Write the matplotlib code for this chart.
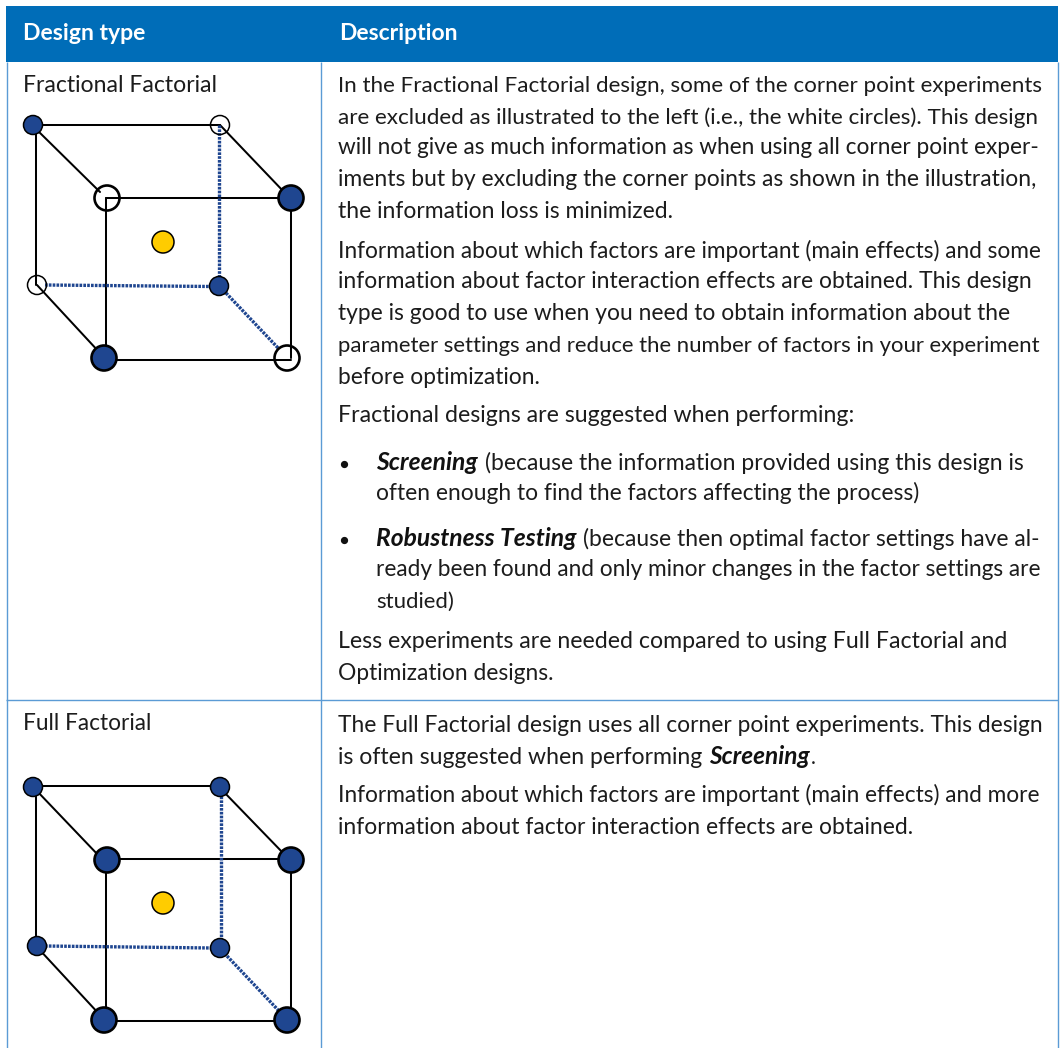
import matplotlib
matplotlib.use("Agg")
import matplotlib.pyplot as plt
from matplotlib.patches import Circle, Rectangle

FONT = "Lato"
TEXT = "#1c1c1c"
HEAD = "#006DB8"
RULE = "#5B9BD5"
NAVY = "#1F4690"
GOLD = "#FFCC00"

headers = ["Design type", "Description"]
design_types = ["Fractional Factorial", "Full Factorial"]

# (text, left, right, baseline)
body_lines = [
    ("In the Fractional Factorial design, some of the corner point experiments", 338, 1041, 91),
    ("are excluded as illustrated to the left (i.e., the white circles). This design", 338, 1040, 122),
    ("will not give as much information as when using all corner point exper-", 338, 1041, 153),
    ("iments but by excluding the corner points as shown in the illustration,", 338, 1036, 185),
    ("the information loss is minimized.", 338, 673, 216),
    ("Information about which factors are important (main effects) and some", 338, 1040, 256),
    ("information about factor interaction effects are obtained. This design", 338, 1031, 287),
    ("type is good to use when you need to obtain information about the", 338, 1010, 319),
    ("parameter settings and reduce the number of factors in your experiment", 338, 1041, 350),
    ("before optimization.", 338, 539, 382),
    ("Fractional designs are suggested when performing:", 338, 856, 421),
    ("(because the information provided using this design is", 485, 1025, 468),
    ("often enough to find the factors affecting the process)", 376, 919, 499),
    ("(because then optimal factor settings have al-", 583, 1041, 544),
    ("ready been found and only minor changes in the factor settings are", 376, 1040, 575),
    ("studied)", 376, 454, 606),
    ("Less experiments are needed compared to using Full Factorial and", 338, 1007, 646),
    ("Optimization designs.", 338, 554, 678),
    ("The Full Factorial design uses all corner point experiments. This design", 338, 1041, 731),
    ("is often suggested when performing", 338, 703, 763),
    (".", 811, 815, 763),
    ("Information about which factors are important (main effects) and more", 338, 1041, 801),
    ("information about factor interaction effects are obtained.", 338, 914, 833),
]
emphasis_lines = [
    ("Screening", 376, 478, 468),
    ("Robustness Testing", 376, 576, 544),
    ("Screening", 709, 810, 763),
]
bullets_y = [462, 538]

# corners: back-top-left, back-top-right, front-top-left, front-top-right,
# back-bottom-left, back-bottom-right, front-bottom-left, front-bottom-right
cube_points_x = [[33, 220, 107, 291, 37, 219, 104, 287], [33, 220, 107, 291, 37, 220, 104, 287]]
cube_points_y = [[125, 125, 198, 198, 285, 286, 358, 358], [787, 787, 860, 860, 946, 948, 1020, 1020]]
cube_point_r = [9.5, 9.5, 12.5, 12.5, 9.5, 9.5, 12.5, 12.5]
cube_point_on = [[1, 0, 0, 1, 0, 1, 1, 0], [1, 1, 1, 1, 1, 1, 1, 1]]
center_x = [163, 163]
center_y = [242, 903]
# solid edge segments (x0, y0, x1, y1)
solid_edges = [
    [(33, 125, 220, 125), (106, 198, 291, 198), (36, 125, 36, 285), (106, 198, 106, 358),
     (291, 198, 291, 358), (104, 360, 291, 360), (36, 129, 100, 192), (220, 125, 285, 193),
     (37, 285, 100, 353)],
    [(33, 786, 220, 786), (106, 859, 291, 859), (36, 787, 36, 947), (106, 860, 106, 1020),
     (291, 860, 291, 1020), (104, 1021, 287, 1021), (36, 790, 100, 857), (222, 790, 285, 855),
     (37, 947, 100, 1015)],
]
dotted_edges = [
    [(218.5, 125, 218.5, 280), (45, 285, 212, 286.5), (226, 293, 279, 349)],
    [(221, 796, 221, 940), (45, 946, 212, 948), (227, 956, 279, 1011)],
]

fig = plt.figure(figsize=(10.6, 10.48), dpi=100, facecolor="white")
ax = fig.add_axes([0, 0, 1, 1])
ax.set_xlim(0, 1060)
ax.set_ylim(1048, 0)
ax.axis("off")
renderer = fig.canvas.get_renderer()

BASE_SHIFT = 1.5


def fit(s, left, right, base, weight="normal", style="normal", color=TEXT, size=15.0, limit=0.12):
    t = ax.text(left, base + BASE_SHIFT, s, family=FONT, fontsize=size, weight=weight, style=style,
                color=color, ha="left", va="baseline")
    w = t.get_window_extent(renderer).width
    t.set_fontsize(min(max(size * (right - left) / w, size * (1 - limit)), size * (1 + limit)))
    return t


# table frame
ax.add_patch(Rectangle((6, 6), 1052, 56, fc=HEAD, ec="none", zorder=1))
for xs, ys in [((6.5, 6.5), (62, 1048)), ((321, 321), (62, 1048)), ((1057.5, 1057.5), (62, 1048)),
               ((6, 1058), (699.5, 699.5))]:
    ax.plot(xs, ys, color=RULE, lw=1.0, solid_capstyle="butt", zorder=1)

fit(headers[0], 23, 146, 38, weight="bold", color="white", size=16, limit=0.25)
fit(headers[1], 339, 458, 38, weight="bold", color="white", size=16, limit=0.25)
fit(design_types[0], 23, 217, 91)
fit(design_types[1], 23, 151, 729)

for s, l, r, b in body_lines:
    if s == ".":
        ax.text(l, b + BASE_SHIFT, s, family=FONT, fontsize=15, color=TEXT, ha="left", va="baseline")
    else:
        fit(s, l, r, b)
for s, l, r, b in emphasis_lines:
    fit(s, l, r, b, weight="bold", style="italic", color="#111111", size=16, limit=0.25)
for y in bullets_y:
    ax.plot([344], [y + 2], "o", color="#111111", ms=4.2, zorder=3)

# cubes
for c in range(2):
    for x0, y0, x1, y1 in solid_edges[c]:
        ax.plot([x0, x1], [y0, y1], color="black", lw=1.45, solid_capstyle="round", zorder=2)
    for x0, y0, x1, y1 in dotted_edges[c]:
        ax.plot([x0, x1], [y0, y1], color=NAVY, lw=2.4, linestyle=(0, (0.8, 0.35)),
                dash_capstyle="butt", zorder=2)
    for x, y, r, on in zip(cube_points_x[c], cube_points_y[c], cube_point_r, cube_point_on[c]):
        lw = 1.9 if r > 10 else 1.1
        ax.add_patch(Circle((x, y), r, fc=NAVY if on else "none", ec="black", lw=lw, zorder=4))
    ax.add_patch(Circle((center_x[c], center_y[c]), 11, fc=GOLD, ec="black", lw=1.1, zorder=4))

fig.savefig("out.png", dpi=100, facecolor="white")
